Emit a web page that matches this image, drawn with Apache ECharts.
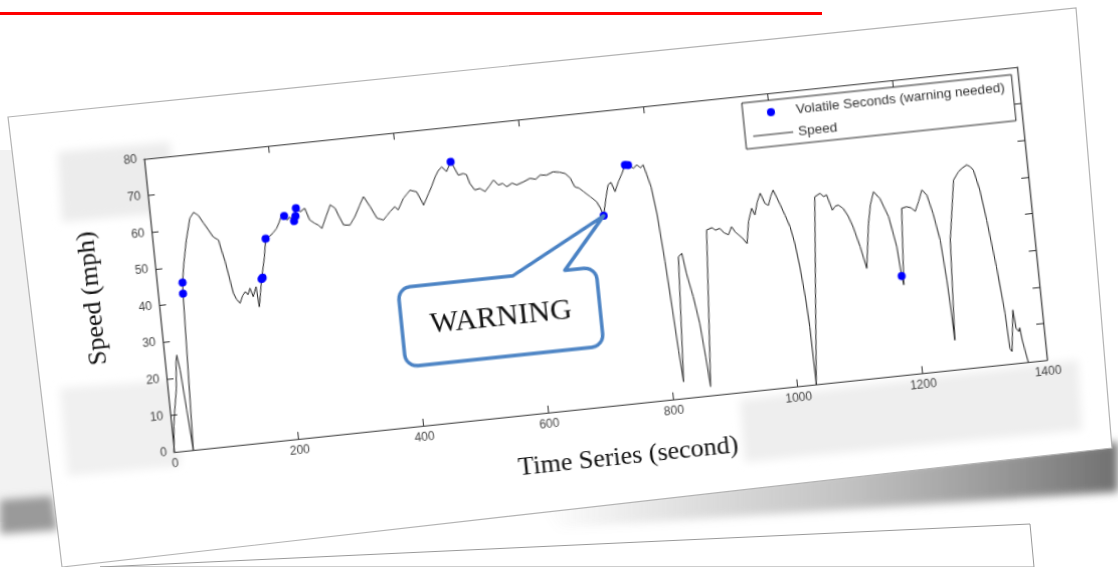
<!DOCTYPE html>
<html><head><meta charset="utf-8">
<script src="https://cdn.jsdelivr.net/npm/echarts@6/dist/echarts.min.js"></script>
<style>
html,body{margin:0;padding:0;width:1118px;height:567px;overflow:hidden;background:#fff}
#deco{position:absolute;left:0;top:0}
#chart{position:absolute;left:0;top:0;width:1000px;height:480px;transform-origin:0 0;transform:matrix(1,-0.10538,0.10239,1,59.9,127.43)}
</style></head><body>
<svg id="deco" width="1118" height="567" xmlns="http://www.w3.org/2000/svg">
<defs>
<filter id="b" x="-20%" y="-60%" width="140%" height="220%"><feGaussianBlur stdDeviation="8"/></filter>
<filter id="b2" x="-20%" y="-50%" width="140%" height="200%"><feGaussianBlur stdDeviation="4"/></filter>
<linearGradient id="sh" x1="0" y1="0" x2="1" y2="0">
<stop offset="0" stop-color="#909090" stop-opacity="0"/>
<stop offset="0.5" stop-color="#a0a0a0" stop-opacity="0.6"/>
<stop offset="1" stop-color="#707070" stop-opacity="1"/>
</linearGradient>
</defs>
<rect width="1118" height="567" fill="#fff"/>
<polygon points="0,150 48,150 52,520 0,522" fill="#f2f2f2"/>
<polygon points="0,500 52,496 58,530 0,534" fill="#9a9a9a" filter="url(#b2)"/>
<polygon points="540,505 1118,442 1118,492 560,528" fill="url(#sh)" filter="url(#b2)"/>
<polygon points="8,117 1076,8 1112,448 62,567" fill="#fff" stroke="#b4b4b4" stroke-width="1.2"/>
<polygon points="58,152 170,142 174,212 62,222" fill="#ececec" filter="url(#b2)"/>
<polygon points="60,388 176,380 180,466 68,476" fill="#f0f0f0" filter="url(#b2)"/>
<polygon points="740,400 1078,360 1082,430 745,462" fill="#eeeeee" filter="url(#b2)"/>
<polygon points="100,567 1030,524 1034,567" fill="#fff" stroke="#9a9a9a" stroke-width="1"/>
<rect x="0" y="12" width="822" height="3" fill="#ff0000"/>
</svg>
<div id="chart"></div>
<script>
// Speed (mph) over time (s)
const speedTime = [0,4,7,10,14,18,20,23,27,31,40,41,46,54,63,70,77,84,90,97,105,108,112,115,120,124,129,134,139,143,147,151,155,157,159,163,167,169,175,180,187,193,199,204,208,213,217,222,228,231,233,239,247,253,261,266,271,280,288,295,300,306,316,325,334,342,351,360,370,376,382,390,395,405,411,417,427,434,436,446,452,459,465,471,478,486,490,496,504,509,513,520,528,536,544,551,558,565,571,580,587,598,609,618,626,636,647,657,666,673,679,685,692,702,711,716,720,727,732,737,742,749,756,762,767,775,781,786,791,795,800,805,810,814,817,820,832,838,842,849,855,859,862,881,890,895,902,908,915,921,926,931,937,943,949,956,960,966,972,978,983,988,993,1002,1008,1014,1019,1023,1027,1029,1030,1058,1067,1072,1077,1084,1089,1094,1101,1108,1114,1122,1129,1139,1145,1152,1161,1172,1180,1183,1185,1194,1202,1209,1215,1222,1229,1236,1243,1250,1254,1256,1257,1266,1281,1290,1297,1304,1309,1314,1321,1327,1335,1341,1343,1346,1354,1356,1360,1362,1364,1366,1370];
const speedMph = [0,7,10.4,10.8,17,24.5,26.1,22,11,0,42.5,45.5,50.5,57,62.7,64.2,63.2,61,59.2,57,56,53.2,50,46.7,41.2,39.5,38.3,40.2,41.3,40.4,42.1,39.7,41.5,42.3,36.8,40.5,44.2,44.6,50,55,55.6,56.4,57.5,59,60.5,60.6,59.4,60.2,59,60.3,62.4,61.3,62.1,58.8,57.7,57.2,56.2,59.5,62.3,61.3,59,56.5,56.3,58.4,61.2,63.6,60.7,57.4,56.7,57.8,58.8,60,59,62,63,64,63.4,60.6,59.6,62.6,64.5,66.9,68.5,69.4,68,70.5,69.1,66.7,67,66.6,64.1,62.2,62.5,61.5,63,64.4,62.9,63.2,62.2,63,62.4,63,63.8,63.4,64.4,64.2,64.9,64.6,64.1,62.7,60.2,59.8,58.7,57.1,55.6,53.8,51.6,56.7,59.8,60.4,57.8,60.4,62.5,64.7,64.6,63.6,64.4,63.5,64.2,61.5,58,50.5,37.5,24,13,4.5,38.4,39.2,33.7,27.2,19.8,10.6,2.4,44.8,45.3,44.5,44.9,43.6,42.9,45,43.5,42.6,41.5,40,46,49.4,47.5,51,53.2,50.3,49.7,52,53.7,49.5,46.5,43.3,38.5,32.2,23.5,15.7,0,50.7,51.5,50.5,50.9,46.6,47.6,47.8,46.8,44.5,41.5,35.9,29.9,42,47,50.4,48.4,43.2,34.9,26.8,24.4,45.1,45.4,45,43.9,46.5,49.5,48,42.8,35.4,24.4,15.3,8,35.2,51.3,53.4,54.3,55,54.5,53.4,47.8,39.5,26.6,13.8,4.2,3.3,14.5,9.5,8.5,9.5,6,6.5,0];
// Volatile seconds (warning needed)
const volatileTime = [40,41,167,169,180,213,228,231,233,486,720,762,767,1183];
const volatileMph = [42.5,45.5,44.2,44.6,55,60.6,59,60.3,62.4,70.5,51.6,64.7,64.6,26.8];
const warningIndex = 10;
const xMin = 0, xMax = 1400, xStep = 200;
const yMin = 0, yMax = 80, yStep = 10;

const axisCol = '#2e2e2e';
const chart = echarts.init(document.getElementById('chart'), null, {renderer: 'canvas'});
const lineAxis = {show: true, onZero: false, lineStyle: {color: axisCol, width: 1.2}};
const tick = {show: true, inside: true, length: 7, lineStyle: {color: axisCol, width: 1}};
const lbl = {margin: 6, fontSize: 12, color: '#444', fontFamily: 'Liberation Sans, Arial, sans-serif', formatter: v => String(v)};
const nameStyle = {fontFamily: 'Liberation Serif, Times New Roman, serif', fontSize: 26, color: '#111'};

chart.setOption({
  animation: false,
  backgroundColor: 'transparent',
  grid: {left: 80, top: 40, width: 873, height: 293, show: true, backgroundColor: '#fff', borderWidth: 0, outerBoundsMode: 'none'},
  legend: {
    orient: 'vertical', left: 677, top: 47,
    itemWidth: 40, itemHeight: 8, itemGap: 8,
    padding: [5, 8, 5, 8],
    symbolKeepAspect: true,
    borderColor: '#222', borderWidth: 1, backgroundColor: '#fff',
    textStyle: {fontSize: 13.5, color: '#333', fontFamily: 'Liberation Sans, Arial, sans-serif'},
    data: [
      {name: 'Volatile Seconds (warning needed)', icon: 'circle'},
      {name: 'Speed', icon: 'path://M0,0 L40,0 L40,1.1 L0,1.1 Z'}
    ]
  },
  xAxis: [
    {type: 'value', min: xMin, max: xMax, interval: xStep, position: 'bottom',
     axisLine: lineAxis, axisTick: tick, axisLabel: lbl, splitLine: {show: false},
     name: 'Time Series (second)', nameLocation: 'middle', nameGap: 39,
     nameTextStyle: Object.assign({padding: [0, 0, 0, 25]}, nameStyle)},
    {type: 'value', min: xMin, max: xMax, interval: xStep, position: 'top',
     axisLine: lineAxis, axisTick: tick, axisLabel: {show: false}, splitLine: {show: false}}
  ],
  yAxis: [
    {type: 'value', min: yMin, max: yMax, interval: yStep, position: 'left',
     axisLine: lineAxis, axisTick: tick, axisLabel: Object.assign({}, lbl, {margin: 7}), splitLine: {show: false},
     name: 'Speed (mph)', nameLocation: 'middle', nameGap: 52, nameRotate: 90,
     nameTextStyle: Object.assign({padding: [0, 0, 0, 28]}, nameStyle)},
    {type: 'value', min: yMin, max: yMax, interval: yStep, position: 'right',
     axisLine: lineAxis, axisTick: tick, axisLabel: {show: false}, splitLine: {show: false}}
  ],
  series: [
    {type: 'scatter', name: 'Volatile Seconds (warning needed)', xAxisIndex: 0, yAxisIndex: 0,
     data: volatileTime.map((t, i) => [t, volatileMph[i]]),
     symbolSize: 8, itemStyle: {color: '#0000ff', opacity: 1}, z: 5},
    {type: 'line', name: 'Speed', xAxisIndex: 0, yAxisIndex: 0,
     data: speedTime.map((t, i) => [t, speedMph[i]]),
     symbol: 'none', lineStyle: {color: '#222', width: 1}, itemStyle: {color: '#222'}, z: 3}
  ]
});

// Callout (rounded box with pointer) aimed at the warning point
const tip = chart.convertToPixel({gridIndex: 0}, [volatileTime[warningIndex], volatileMph[warningIndex]]);
const x0 = 318, y0 = 194, x1 = 516, y1 = 273, r = 12, bl = 433, br = 485;
function arc(cx, cy, a0, a1) {
  const pts = [];
  for (let k = 0; k <= 6; k++) {
    const a = (a0 + (a1 - a0) * k / 6) * Math.PI / 180;
    pts.push([cx + r * Math.cos(a), cy + r * Math.sin(a)]);
  }
  return pts;
}
const calloutPts = [].concat(
  [[bl, y0], [tip[0], tip[1]], [br, y0]],
  arc(x1 - r, y0 + r, -90, 0),
  arc(x1 - r, y1 - r, 0, 90),
  arc(x0 + r, y1 - r, 90, 180),
  arc(x0 + r, y0 + r, 180, 270)
);
chart.setOption({
  graphic: [
    {type: 'polygon', shape: {points: calloutPts}, style: {fill: '#fff', stroke: '#4a82c4', lineWidth: 3.5, lineJoin: 'round'}, z: 20},
    {type: 'text', x: (x0 + x1) / 2, y: (y0 + y1) / 2 + 1, z: 21,
     style: {text: 'WARNING', font: '30px "Liberation Serif", "Times New Roman", serif', fill: '#111', align: 'center', verticalAlign: 'middle'}}
  ]
});
</script>
</body></html>
